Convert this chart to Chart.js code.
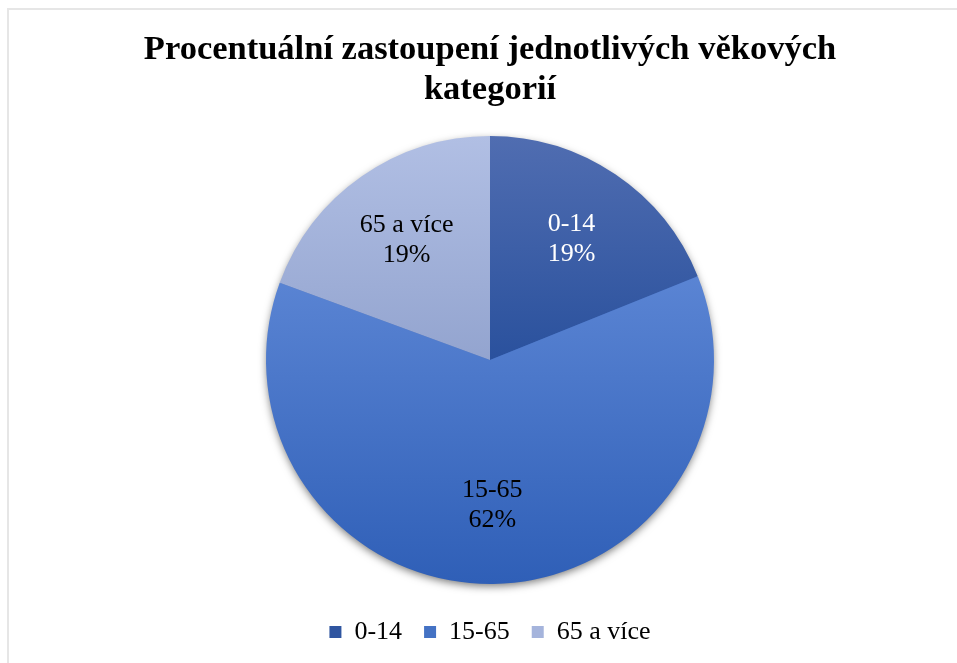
<!DOCTYPE html>
<html lang="cs">
<head>
<meta charset="utf-8">
<title>Procentuální zastoupení jednotlivých věkových kategorií</title>
<script src="https://cdn.jsdelivr.net/npm/chart.js@4/dist/chart.umd.min.js"></script>
<style>
    html, body {
        margin: 0;
        padding: 0;
        background: #ffffff;
    }
    #wrap {
        position: relative;
        width: 957px;
        height: 663px;
        overflow: hidden;
    }
    #frame {
        position: absolute;
        left: 7px;
        top: 8px;
        right: -10px;
        bottom: -10px;
        border-top: 2px solid #e6e6e6;
        border-left: 2px solid #e6e6e6;
        pointer-events: none;
    }
    canvas {
        position: absolute;
        left: 0;
        top: 0;
    }
</style>
</head>
<body>
<div id="wrap">
    <canvas id="age-chart" width="957" height="663"></canvas>
    <div id="frame"></div>
</div>
<script>
    const categories = ['0-14', '15-65', '65 a více'];
    const shares = [18.9, 61.7, 19.4];
    const shareLabels = ['19%', '62%', '19%'];

    const titleLines = ['Procentuální zastoupení jednotlivých věkových', 'kategorií'];

    // top / bottom colour of each slice (Excel-like vertical gradient)
    const sliceTopColors = ['#506db1', '#5b85d4', '#b1bfe4'];
    const sliceBottomColors = ['#2a519d', '#2f5fb7', '#93a4cf'];
    const sliceFlatColors = ['#2f55a0', '#4472c4', '#a5b4dc'];
    const labelColors = ['#ffffff', '#000000', '#000000'];

    const serif = '"Liberation Serif", "Times New Roman", serif';
    const pieRadius = 224;

    function sliceGradient(context) {
        const chart = context.chart;
        const i = context.dataIndex;
        const area = chart.chartArea;
        if (!area) {
            return sliceFlatColors[i];
        }
        const cy = (area.top + area.bottom) / 2;
        const g = chart.ctx.createLinearGradient(0, cy - pieRadius, 0, cy + pieRadius);
        if (i === 1) {
            // middle slice starts around the 0-14 edge and runs to the bottom
            g.addColorStop(0, sliceTopColors[i]);
            g.addColorStop(0.3, sliceTopColors[i]);
            g.addColorStop(1, sliceBottomColors[i]);
        } else {
            g.addColorStop(0, sliceTopColors[i]);
            g.addColorStop(0.5, sliceBottomColors[i]);
            g.addColorStop(1, sliceBottomColors[i]);
        }
        return g;
    }

    const pieShadow = {
        id: 'pieShadow',
        beforeDatasetsDraw(chart) {
            const arc = chart.getDatasetMeta(0).data[0];
            if (!arc) return;
            const {x, y, outerRadius} = arc.getProps(['x', 'y', 'outerRadius'], true);
            const ctx = chart.ctx;
            ctx.save();
            ctx.shadowColor = 'rgba(0, 0, 0, 0.55)';
            ctx.shadowBlur = 9;
            ctx.shadowOffsetY = 3;
            ctx.fillStyle = '#3a66b8';
            ctx.beginPath();
            ctx.arc(x, y, outerRadius - 1, 0, Math.PI * 2);
            ctx.fill();
            ctx.restore();
        }
    };

    const sliceLabels = {
        id: 'sliceLabels',
        afterDatasetsDraw(chart) {
            const ctx = chart.ctx;
            const meta = chart.getDatasetMeta(0);
            ctx.save();
            ctx.font = '26px ' + serif;
            ctx.textAlign = 'center';
            ctx.textBaseline = 'middle';
            meta.data.forEach((arc, i) => {
                const p = arc.getProps(['x', 'y', 'startAngle', 'endAngle', 'outerRadius'], true);
                const mid = (p.startAngle + p.endAngle) / 2;
                const r = p.outerRadius * 0.65;
                const lx = p.x + Math.cos(mid) * r;
                const ly = p.y + Math.sin(mid) * r;
                ctx.fillStyle = labelColors[i];
                ctx.fillText(categories[i], lx, ly - 15);
                ctx.fillText(shareLabels[i], lx, ly + 15);
            });
            ctx.restore();
        }
    };

    const chartContext = document.getElementById('age-chart').getContext('2d');
    const ageChart = new Chart(chartContext, {
        type: 'pie',
        data: {
            labels: categories,
            datasets: [
                {
                    data: shares,
                    backgroundColor: sliceGradient,
                    borderWidth: 0,
                    radius: pieRadius
                }
            ]
        },
        options: {
            responsive: false,
            animation: false,
            devicePixelRatio: 1,
            layout: {
                padding: {left: 23, right: 0, top: 0, bottom: 8}
            },
            plugins: {
                title: {
                    display: true,
                    text: titleLines,
                    color: '#000000',
                    font: {family: serif, size: 34.5, weight: 'bold', lineHeight: 40 / 34.5},
                    padding: {top: 30, bottom: 13}
                },
                legend: {
                    position: 'bottom',
                    labels: {
                        color: '#000000',
                        font: {family: serif, size: 26},
                        boxWidth: 12,
                        boxHeight: 12,
                        padding: 22,
                        generateLabels(chart) {
                            return categories.map((name, i) => ({
                                text: name,
                                fillStyle: sliceFlatColors[i],
                                strokeStyle: sliceFlatColors[i],
                                lineWidth: 0,
                                fontColor: '#000000',
                                index: i
                            }));
                        }
                    }
                },
                tooltip: {enabled: false}
            }
        },
        plugins: [pieShadow, sliceLabels]
    });
</script>
</body>
</html>
